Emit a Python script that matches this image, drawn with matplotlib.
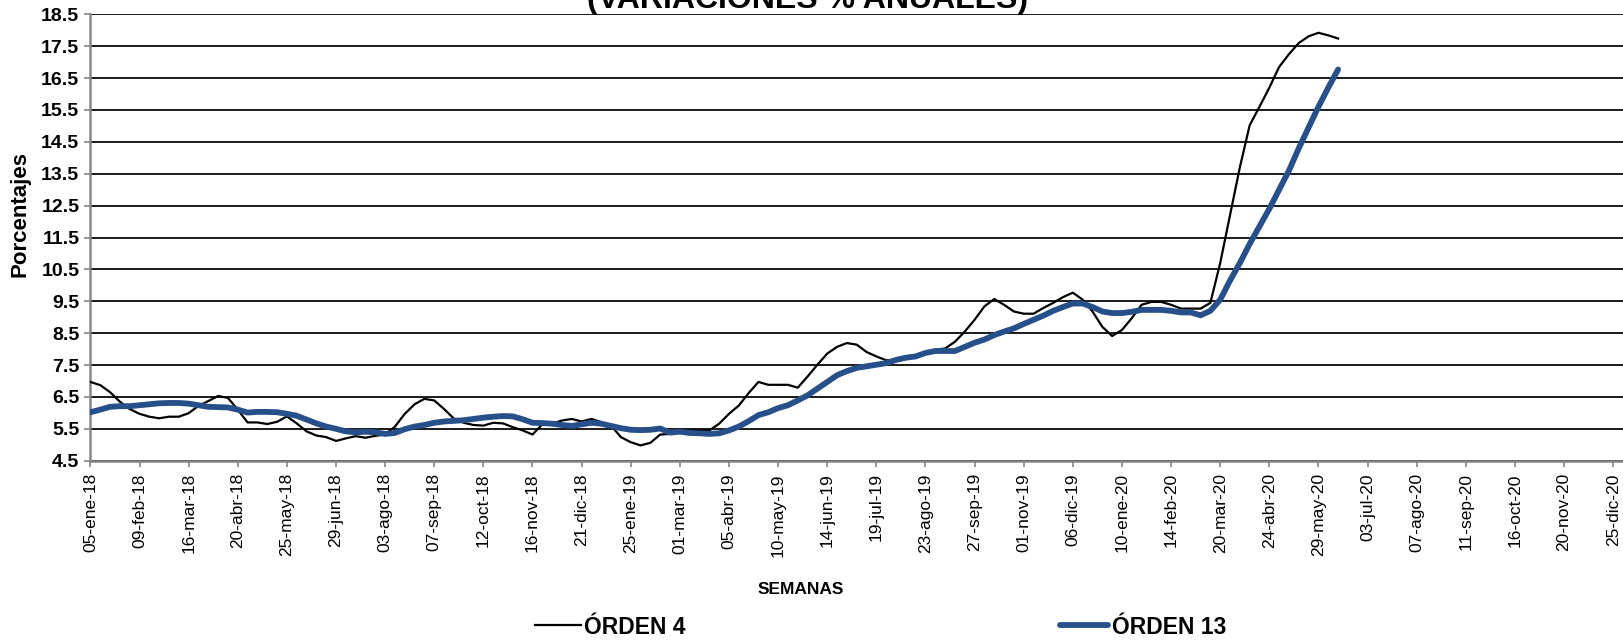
"""Weekly annual variation chart: ORDEN 4 vs ORDEN 13 moving averages."""
import matplotlib
matplotlib.use('Agg')
import matplotlib.pyplot as plt
import numpy as np

plt.rcParams['font.family'] = ['Liberation Sans', 'DejaVu Sans']

# weekly values from 05-ene-18 (week 0) to 12-jun-20 (week 127)
orden4 = [
    6.97, 6.87, 6.65, 6.35, 6.12, 5.97, 5.88, 5.83, 5.88, 5.88,
    5.99, 6.22, 6.37, 6.53, 6.47, 6.10, 5.70, 5.70, 5.65, 5.72,
    5.89, 5.67, 5.42, 5.29, 5.24, 5.12, 5.20, 5.27, 5.22, 5.28,
    5.32, 5.57, 5.97, 6.27, 6.44, 6.39, 6.12, 5.82, 5.69, 5.62,
    5.60, 5.69, 5.67, 5.55, 5.45, 5.32, 5.64, 5.66, 5.76, 5.81,
    5.73, 5.81, 5.71, 5.60, 5.24, 5.08, 4.98, 5.06, 5.32, 5.34,
    5.43, 5.45, 5.45, 5.45, 5.66, 5.97, 6.23, 6.62, 6.97, 6.88,
    6.88, 6.88, 6.79, 7.14, 7.51, 7.86, 8.07, 8.19, 8.14, 7.91,
    7.77, 7.65, 7.65, 7.75, 7.80, 7.91, 7.98, 8.02, 8.23, 8.55,
    8.92, 9.34, 9.57, 9.39, 9.18, 9.11, 9.11, 9.29, 9.45, 9.63,
    9.77, 9.55, 9.18, 8.70, 8.41, 8.60, 8.97, 9.39, 9.48, 9.48,
    9.39, 9.27, 9.27, 9.27, 9.45, 10.70, 12.20, 13.70, 15.02, 15.60,
    16.20, 16.85, 17.25, 17.60, 17.81, 17.92, 17.84, 17.74,
]
orden13 = [
    6.02, 6.10, 6.19, 6.21, 6.21, 6.24, 6.27, 6.30, 6.31, 6.31,
    6.29, 6.24, 6.19, 6.18, 6.17, 6.10, 6.01, 6.03, 6.03, 6.02,
    5.97, 5.91, 5.79, 5.67, 5.57, 5.50, 5.42, 5.39, 5.41, 5.39,
    5.34, 5.37, 5.49, 5.57, 5.62, 5.69, 5.73, 5.75, 5.77, 5.81,
    5.85, 5.88, 5.90, 5.89, 5.80, 5.69, 5.68, 5.66, 5.62, 5.59,
    5.64, 5.69, 5.66, 5.59, 5.52, 5.47, 5.46, 5.47, 5.51, 5.38,
    5.41, 5.37, 5.36, 5.34, 5.36, 5.45, 5.57, 5.74, 5.93, 6.02,
    6.15, 6.24, 6.39, 6.55, 6.76, 6.97, 7.18, 7.31, 7.41, 7.46,
    7.51, 7.56, 7.66, 7.73, 7.77, 7.88, 7.94, 7.94, 7.94, 8.07,
    8.20, 8.30, 8.44, 8.55, 8.65, 8.79, 8.92, 9.05, 9.20, 9.32,
    9.43, 9.43, 9.32, 9.18, 9.13, 9.13, 9.17, 9.23, 9.23, 9.23,
    9.20, 9.15, 9.15, 9.06, 9.20, 9.55, 10.15, 10.70, 11.30, 11.85,
    12.40, 13.00, 13.60, 14.30, 14.95, 15.60, 16.20, 16.77,
]

# one label every 5 weeks
tick_labels = [
    '05-ene-18', '09-feb-18', '16-mar-18', '20-abr-18', '25-may-18',
    '29-jun-18', '03-ago-18', '07-sep-18', '12-oct-18', '16-nov-18',
    '21-dic-18', '25-ene-19', '01-mar-19', '05-abr-19', '10-may-19',
    '14-jun-19', '19-jul-19', '23-ago-19', '27-sep-19', '01-nov-19',
    '06-dic-19', '10-ene-20', '14-feb-20', '20-mar-20', '24-abr-20',
    '29-may-20', '03-jul-20', '07-ago-20', '11-sep-20', '16-oct-20',
    '20-nov-20', '25-dic-20',
]
n_weeks = 156

W, H = 1623, 641
fig = plt.figure(figsize=(W / 100, H / 100), dpi=100)
ax = fig.add_axes([90.4 / W, 1 - 460.7 / H, 1 - 90.4 / W, (460.7 - 14.3) / H])

weeks = np.arange(len(orden4))
l4, = ax.plot(weeks, orden4, color='black', lw=1.6, label='ÓRDEN 4', zorder=3)
l13, = ax.plot(weeks, orden13, color='#27508A', lw=4.2, label='ÓRDEN 13',
               zorder=4, solid_capstyle='round')

ax.set_xlim(0, n_weeks)
ax.set_ylim(4.5, 18.5)
ax.set_yticks(np.arange(4.5, 18.6, 1.0))
ax.set_yticklabels([f'{v:.1f}' for v in np.arange(4.5, 18.6, 1.0)],
                   fontsize=14, fontweight='bold')
ax.set_xticks(np.arange(0, 5 * len(tick_labels), 5))
ax.set_xticklabels(tick_labels, rotation=90, fontsize=12.5)

ax.yaxis.grid(True, color='#1a1a1a', lw=1.4)
ax.set_axisbelow(True)
ax.tick_params(axis='both', direction='out', length=4, width=1.2,
               color='#868686')
ax.tick_params(axis='y', pad=4)
ax.tick_params(axis='x', pad=5)

for side in ('top', 'right'):
    ax.spines[side].set_visible(False)
for side in ('left', 'bottom'):
    ax.spines[side].set_color('#868686')
    ax.spines[side].set_linewidth(1.8)

# title is cut off by the top edge in the original
fig.text(808 / W, 1 - 8 / H, '(VARIACIONES % ANUALES)', fontsize=23,
         fontweight='bold', ha='center', va='baseline')
fig.text(20 / W, 1 - 214 / H, 'Porcentajes', fontsize=16, fontweight='bold',
         rotation=90, ha='center', va='center')
fig.text(801 / W, 1 - 590 / H, 'SEMANAS', fontsize=12.5, fontweight='bold',
         ha='center', va='center')

leg_font = dict(weight='bold', size=16.5)
fig.legend(handles=[l4], loc='center left', bbox_to_anchor=(535 / W, 1 - 627 / H),
           frameon=False, borderpad=0, borderaxespad=0, handlelength=2.0,
           handletextpad=0.15, prop=leg_font)
fig.legend(handles=[l13], loc='center left', bbox_to_anchor=(1060 / W, 1 - 627 / H),
           frameon=False, borderpad=0, borderaxespad=0, handlelength=2.1,
           handletextpad=0.15, prop=leg_font)

fig.savefig('out.png', dpi=100, facecolor='white')
